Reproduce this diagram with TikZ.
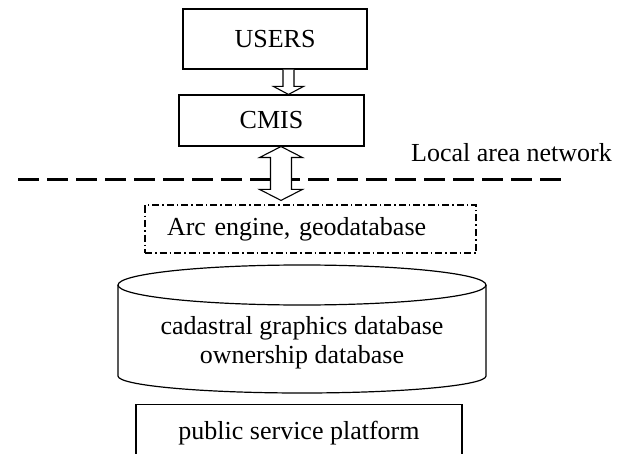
\documentclass[tikz,border=0pt]{standalone}
\usepackage{fontspec}
\setmainfont{Liberation Serif}
\usetikzlibrary{calc}

\begin{document}
\begin{tikzpicture}[x=1pt,y=1pt,
    box/.style={draw, line width=1.1pt, inner sep=0pt},
    hollow/.style={draw, fill=white, line width=1.1pt, line join=miter},
    font=\fontsize{26}{29}\selectfont]
    \clip (0,0) rectangle (634,453);
    \node[box, minimum width=184pt, minimum height=60pt] (users) at (275,414) {USERS};
    \node[box, minimum width=185pt, minimum height=51pt] (cmis) at (271.5,332.5) {CMIS};
    \node[anchor=base west, inner sep=0pt] (lan) at (411,291) {Local area network};
    \coordinate (lanleft) at (18,273);
    \coordinate (lanright) at (567,273);
    \draw[line width=3pt, dash pattern=on 21pt off 8pt] (lanleft) -- (lanright);
    \node[box, line width=1.2pt, dash pattern=on 7pt off 3pt on 1.5pt off 3pt,
        minimum width=331pt, minimum height=48pt, text width=287pt, align=left] (arc) at (310.5,224) {Arc engine, geodatabase};
    % users -> cmis
    \coordinate (ua) at ($(users.south)+(13.5,0)$);
    \coordinate (ub) at (ua |- cmis.north);
    \draw[hollow] ($(ua)+(-5.5,0)$) -- ($(ub)+(-5.5,8)$) -- ($(ub)+(-15,8)$) -- (ub)
        -- ($(ub)+(15,8)$) -- ($(ub)+(5.5,8)$) -- ($(ua)+(5.5,0)$);
    % cmis <-> arc engine
    \coordinate (cmisout) at ($(cmis.south)+(9.5,0)$);
    \coordinate (arcin) at ($(cmisout |- arc.north)+(0,4)$);
    \draw[hollow] (cmisout) -- ($(cmisout)+(21.5,-11)$) -- ($(cmisout)+(10.5,-11)$)
        -- ($(arcin)+(10.5,11)$) -- ($(arcin)+(21.5,11)$) -- (arcin)
        -- ($(arcin)+(-21.5,11)$) -- ($(arcin)+(-10.5,11)$)
        -- ($(cmisout)+(-10.5,-11)$) -- ($(cmisout)+(-21.5,-11)$) -- cycle;
    % database cylinder
    \draw[line width=1.2pt] (118,168) -- (118,77) arc[start angle=180, end angle=360, x radius=184, y radius=17] -- (486,168);
    \draw[line width=1.2pt] (302,168) ellipse [x radius=184, y radius=20];
    \node[align=center] (gdb) at (302,110) {cadastral graphics database\\ownership database};
    \node[box, anchor=north, minimum width=326pt, inner ysep=5pt, text height=30pt, text depth=40pt] (psp) at (299,49) {public service platform};
\end{tikzpicture}
\end{document}
